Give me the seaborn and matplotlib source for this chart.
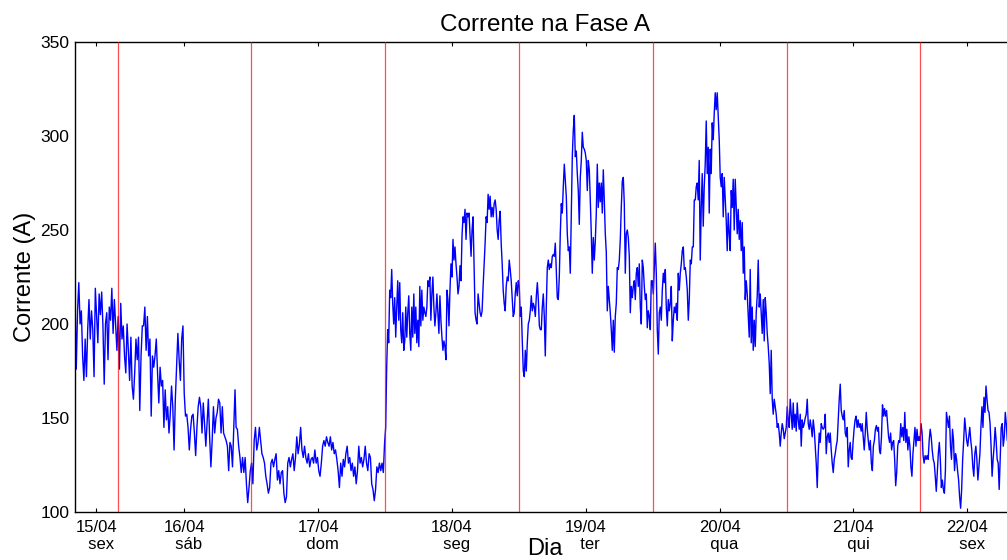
import numpy as np
import pandas as pd
import matplotlib
matplotlib.use("Agg")
import matplotlib.pyplot as plt
import seaborn as sns

# Phase A current (A), logged in consecutive stretches across the week
seg1 = [214, 176, 207, 222, 200, 207, 183, 170, 192, 172, 197, 213, 192, 207, 197, 172,
        219, 204, 190, 216, 205, 217, 199, 168, 200, 206, 181, 209, 202, 219, 195, 213,
        200, 186, 204, 176, 211, 192, 199, 183, 174, 200, 186, 170, 193, 167, 160, 174,
        192, 181, 193, 154, 183, 199, 199, 209, 186, 204, 183, 192, 151, 183, 177, 183,
        192, 174, 158, 177, 167, 170, 145, 165, 149, 156, 142, 152, 167, 156, 133, 160,
        177, 195, 181, 170, 192, 199, 163, 151, 152, 145, 133, 144, 151, 152, 142, 130,
        145, 156, 161, 156, 142, 158, 147, 135, 147, 160, 140, 124, 138, 156, 142, 150,
        153, 160, 158, 142, 156, 142, 140, 138, 135, 122, 137, 135, 124, 145, 165]
seg2 = [145, 144, 135, 129, 121, 129, 121, 129, 115, 105, 113, 122, 126, 115, 138, 145,
        133, 137, 145, 138, 131, 129, 126, 119, 115, 110, 113, 126, 128, 124, 128, 131,
        117, 122, 115, 121, 122, 110, 105, 108, 126, 129, 124, 128, 131, 122, 129, 140,
        131, 136, 145, 133, 129, 135, 129, 126, 131, 124, 128, 129, 126, 133, 126, 129,
        122, 119, 126, 135, 138, 135, 140, 137, 135, 140, 133, 137, 131, 133, 128, 122,
        113, 126, 119, 128, 124, 131, 135, 126, 129, 122, 126, 119, 124, 115, 122, 135,
        126, 129, 124, 128, 135, 126, 122, 131, 129, 115, 112, 106, 112, 124, 121, 126,
        122, 126, 121, 137]
seg3 = [145, 177, 197, 190, 218, 214, 229, 211, 200, 214, 193, 209, 223, 202, 222, 197,
        190, 206, 186, 191, 209, 193, 206, 215, 195, 186, 209, 193, 216, 195, 209, 190,
        202, 188, 220, 199, 218, 202, 209, 206, 204, 209, 223, 220, 225, 202, 216, 225,
        209, 199, 206, 216, 206, 195, 215, 202, 193, 186, 191, 188, 181, 218, 213, 199,
        218, 232, 225, 245, 234, 241, 232, 225, 216, 220, 231, 223, 247, 257, 254, 261,
        245, 259, 257, 259, 248, 236, 250, 257, 232, 206, 202, 200, 216, 211, 206, 204,
        207, 220, 231, 243, 257, 254, 269, 261, 268, 257, 262, 257, 264, 266, 261, 250,
        245, 255, 260, 243, 232, 218, 211, 207, 220, 225, 223, 234, 229, 223, 213, 204,
        206, 216, 222, 215, 223, 220, 204, 209, 191, 175, 172, 186, 175, 190, 200, 202,
        207, 215, 207, 211, 209, 204, 215, 222, 213, 199, 197]
seg4 = [197, 209, 216, 204, 183, 209, 230, 234, 229, 232, 230, 236, 237, 236, 243, 229,
        214, 213, 225, 248, 264, 259, 273, 285, 276, 268, 248, 239, 241, 227, 257, 289,
        303, 311, 289, 292, 280, 271, 253, 278, 287, 302, 294, 293, 291, 287, 271, 287,
        282, 266, 248, 227, 246, 234, 244, 259, 285, 262, 275, 265, 275, 259, 282, 266,
        248, 238, 207, 220, 213, 206, 197, 186, 202, 185, 204, 211, 230, 229, 234, 245,
        262, 276, 278, 264, 227, 248, 250, 246, 236, 206, 220, 214, 220, 223, 213, 227,
        230, 220, 232, 209, 200, 234, 230, 220, 213, 216, 198, 207, 204, 197, 223, 223,
        216, 230, 243, 227, 197, 184, 206, 209, 202, 218, 227, 222, 229, 209, 199, 213,
        207, 211, 220, 191, 202, 209, 206, 211, 202, 227, 218, 227, 232, 239, 241, 229,
        230, 225, 218, 202, 213, 234, 232, 241, 241, 266, 266]
seg5 = [273, 275, 266, 287, 234, 262, 280, 252, 273, 285, 308, 280, 294, 259, 293, 280,
        307, 298, 312, 323, 314, 323, 310, 298, 278, 273, 280, 257, 278, 266, 255, 239,
        259, 248, 239, 271, 262, 277, 250, 277, 262, 248, 261, 245, 255, 239, 254, 227,
        241, 213, 223, 216, 204, 193, 229, 190, 209, 186, 202, 188, 206, 215, 234, 209,
        216, 206, 195, 213, 191, 214, 206, 195, 188, 179, 163, 186, 160, 152, 160, 156,
        152, 145, 147, 142, 135, 142, 147, 144, 139, 142, 145, 156, 149, 145, 160, 152,
        144, 158, 145, 152, 143, 158, 149, 144, 152, 135, 149, 145, 147, 150, 152, 160,
        147, 144, 149, 145, 140, 149, 144, 135, 126, 113, 131, 142, 137, 147, 145, 144,
        145, 152, 131, 140, 142, 137, 142, 133, 126, 121, 128, 131, 135, 138, 149, 160,
        168, 154, 151, 149, 154, 142, 140, 145, 124, 133, 137]
seg6 = [129, 128, 137, 144, 149, 151, 145, 149, 145, 147, 143, 147, 140, 133, 142, 153,
        144, 138, 133, 138, 126, 122, 135, 138, 144, 146, 143, 145, 133, 131, 140, 157,
        151, 155, 151, 154, 147, 140, 137, 142, 133, 137, 138, 128, 114, 121, 135, 138,
        137, 147, 140, 145, 138, 153, 137, 144, 133, 140, 135, 124, 119, 131, 138, 145,
        135, 144, 138, 140, 138, 147, 142, 130, 126, 130, 128, 130, 128, 138, 144, 140,
        133, 128, 126, 119, 111, 121, 131, 137, 128, 113, 117, 112, 110, 122, 153, 149,
        145, 151, 135, 128, 144, 138, 122, 131, 128, 122, 117, 108, 102, 112, 128, 138,
        150, 144, 138, 135, 140, 145, 138, 133, 124, 119, 131, 135, 128, 117, 124, 131,
        145, 156, 145, 161, 153, 167, 160, 154, 153, 147, 135, 119, 128, 135, 145, 138,
        128, 126, 112, 128, 145, 147, 135, 140, 153, 147, 138]

# first/last timestamp of each stretch, in days since 15/04 00:00
seg_windows = [(0.682, 1.878), (1.886, 2.996), (3.004, 4.160),
               (4.167, 5.318), (5.325, 6.476), (6.482, 7.650)]

dates = ["15/04", "16/04", "17/04", "18/04", "19/04", "20/04", "21/04", "22/04"]
weekdays = ["sex", "sáb", "dom", "seg", "ter", "qua", "qui", "sex"]
day_range = (0.682, 7.70)

segments = [seg1, seg2, seg3, seg4, seg5, seg6]
t = np.concatenate([np.linspace(a, b, len(s)) for s, (a, b) in zip(segments, seg_windows)])
amps = np.concatenate([np.asarray(s, dtype=float) for s in segments])
df = pd.DataFrame({"dia": t, "corrente": amps})

sns.set_theme(style="white")
plt.rcParams["font.family"] = ["Liberation Sans", "DejaVu Sans"]

fig = plt.figure(figsize=(10.07, 5.6), dpi=100)
ax = fig.add_axes([75 / 1007, 48 / 560, 939 / 1007, 470 / 560])

sns.lineplot(data=df, x="dia", y="corrente", ax=ax, color="blue",
             linewidth=1.0, estimator=None, sort=False, zorder=2)

lo, hi = day_range
midnights = range(int(np.ceil(lo)), int(np.floor(hi)) + 1)
for d in midnights:
    ax.axvline(d, color="red", linewidth=0.9, alpha=0.7, zorder=3)

ax.set_xlim(lo, hi)
ax.set_ylim(100, 350)
ax.set_yticks(range(100, 351, 50))

# one label per day, centred on the visible part of that day
bounds = [lo] + list(midnights) + [hi]
centres = [(a + b) / 2 for a, b in zip(bounds[:-1], bounds[1:])]
ax.set_xticks(centres)
ax.set_xticklabels([f"{d}\n  {w}" for d, w in zip(dates, weekdays)])
for lab in ax.get_xticklabels():
    lab.set_linespacing(1.1)

ax.tick_params(axis="x", direction="in", length=3, width=0.8, top=True, bottom=True,
               labelsize=12, pad=6, color="black", labelcolor="black")
ax.tick_params(axis="y", length=0, labelsize=12.5, pad=4, labelcolor="black")

for sp in ax.spines.values():
    sp.set_color("black")
    sp.set_linewidth(1.0)

ax.set_title("Corrente na Fase A", fontsize=17.5, pad=8, color="black")
ax.set_ylabel("Corrente (A)", fontsize=17, labelpad=3, color="black")
ax.set_xlabel("Dia", fontsize=17, color="black")
ax.xaxis.set_label_coords(0.5, -0.055)

fig.savefig("out.png", dpi=100)
